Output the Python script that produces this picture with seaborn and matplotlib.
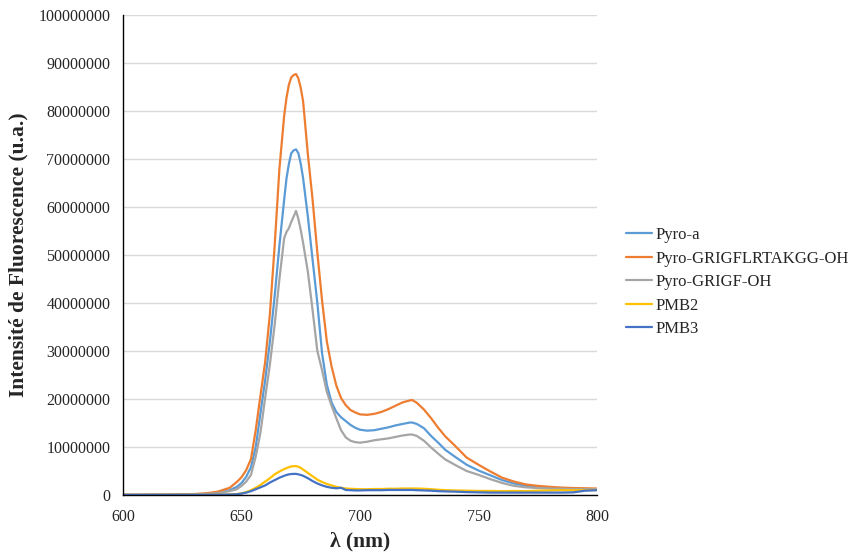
import numpy as np
import pandas as pd
import matplotlib
matplotlib.use('Agg')
import matplotlib.pyplot as plt
from matplotlib.ticker import FuncFormatter, MultipleLocator
import seaborn as sns

# wavelength (nm)
wl = [600, 610, 620, 630, 635, 640, 645, 648, 650, 652, 654, 656, 658, 660, 662, 664, 666,
      668, 669, 670, 671, 672, 673, 674, 675, 676, 677, 678, 680, 682, 684, 686, 688, 690,
      692, 694, 696, 698, 700, 703, 706, 709, 712, 715, 718, 721, 722, 724, 727, 730, 733,
      736, 740, 745, 750, 755, 760, 765, 770, 775, 780, 785, 790, 795, 800]

# intensities, in millions
pyro_a = [0.05, 0.06, 0.08, 0.15, 0.25, 0.5, 1.0, 1.7, 2.5, 3.8, 5.8, 10.0, 17.0, 24.0,
          32.0, 41.5, 52.0, 61.5, 66.0, 69.0, 71.2, 71.8, 72.0, 71.2, 69.0, 66.0, 62.0,
          58.0, 49.0, 40.0, 29.5, 23.0, 19.3, 17.3, 16.2, 15.4, 14.6, 14.0, 13.6, 13.4,
          13.5, 13.8, 14.1, 14.5, 14.8, 15.1, 15.1, 14.8, 13.9, 12.3, 10.9, 9.4, 8.0, 6.3,
          5.1, 4.1, 3.1, 2.4, 1.9, 1.6, 1.45, 1.35, 1.25, 1.2, 1.2]
pyro_long = [0.05, 0.07, 0.1, 0.2, 0.35, 0.7, 1.5, 2.7, 3.7, 5.2, 7.5, 13.5, 20.7, 27.8,
             37.8, 52.0, 68.0, 79.0, 82.8, 85.5, 87.0, 87.5, 87.7, 86.8, 84.8, 82.0, 76.5,
             71.0, 61.5, 50.5, 40.5, 32.0, 26.8, 22.8, 20.2, 18.7, 17.7, 17.2, 16.8, 16.7,
             16.9, 17.3, 17.9, 18.6, 19.3, 19.7, 19.8, 19.2, 17.8, 16.0, 14.0, 12.2, 10.3,
             7.8, 6.3, 4.9, 3.6, 2.8, 2.2, 1.9, 1.7, 1.55, 1.45, 1.4, 1.35]
pyro_short = [0.04, 0.05, 0.07, 0.12, 0.2, 0.4, 0.8, 1.2, 1.9, 2.8, 4.2, 8.0, 13.0, 20.3,
              27.3, 35.5, 45.0, 53.5, 54.8, 55.6, 56.9, 58.0, 59.2, 57.5, 55.2, 52.5, 49.5,
              46.5, 38.5, 30.0, 26.0, 21.5, 18.6, 16.0, 13.5, 12.0, 11.3, 11.0, 10.9, 11.1,
              11.4, 11.6, 11.8, 12.1, 12.4, 12.6, 12.6, 12.3, 11.3, 9.9, 8.6, 7.4, 6.3, 5.0,
              4.2, 3.3, 2.5, 1.9, 1.6, 1.45, 1.35, 1.3, 1.25, 1.2, 1.2]
pmb2 = [0.02, 0.02, 0.03, 0.04, 0.05, 0.08, 0.12, 0.2, 0.35, 0.6, 1.0, 1.5, 2.1, 2.8, 3.5,
        4.3, 4.9, 5.4, 5.6, 5.8, 5.95, 6.0, 6.0, 5.9, 5.65, 5.3, 4.95, 4.6, 3.9, 3.2, 2.7,
        2.3, 2.0, 1.7, 1.5, 1.35, 1.3, 1.25, 1.2, 1.2, 1.25, 1.25, 1.3, 1.3, 1.35, 1.35,
        1.35, 1.35, 1.3, 1.2, 1.1, 1.0, 0.95, 0.9, 0.85, 0.85, 0.8, 0.85, 0.8, 0.9, 0.95,
        1.0, 1.0, 1.0, 1.05]
pmb3 = [0.02, 0.02, 0.03, 0.04, 0.05, 0.07, 0.1, 0.15, 0.3, 0.5, 0.8, 1.2, 1.6, 2.0, 2.6,
        3.1, 3.6, 4.0, 4.17, 4.3, 4.37, 4.4, 4.4, 4.3, 4.17, 4.0, 3.75, 3.5, 2.9, 2.4, 2.0,
        1.7, 1.5, 1.4, 1.5, 1.05, 1.0, 0.95, 0.95, 1.0, 1.0, 1.0, 1.05, 1.05, 1.05, 1.05,
        1.05, 1.0, 0.95, 0.9, 0.8, 0.75, 0.7, 0.6, 0.55, 0.5, 0.5, 0.5, 0.5, 0.5, 0.5, 0.5,
        0.55, 0.9, 1.0]

labels = ['Pyro-a', 'Pyro-GRIGFLRTAKGG-OH', 'Pyro-GRIGF-OH', 'PMB2', 'PMB3']
colors = ['#5B9BD5', '#ED7D31', '#A5A5A5', '#FFC000', '#4472C4']
series = [pyro_a, pyro_long, pyro_short, pmb2, pmb3]

frames = []
for name, vals in zip(labels, series):
    frames.append(pd.DataFrame({'wl': wl, 'val': np.array(vals) * 1e6, 'series': name}))
df = pd.concat(frames, ignore_index=True)

sns.set_style('white')
plt.rcParams['font.family'] = ['Liberation Serif', 'DejaVu Serif']

fig = plt.figure(figsize=(8.53, 5.53), dpi=100)
ax = fig.add_axes([123 / 853, 1 - 495 / 553, 474 / 853, 480 / 553])

sns.lineplot(data=df, x='wl', y='val', hue='series', palette=dict(zip(labels, colors)),
             hue_order=labels, linewidth=1.6, ax=ax, legend=False)

ax.set_xlim(600, 800)
ax.set_ylim(0, 100000000)
ax.xaxis.set_major_locator(MultipleLocator(50))
ax.yaxis.set_major_locator(MultipleLocator(10000000))
ax.yaxis.set_major_formatter(FuncFormatter(lambda v, p: '%d' % v))
ax.grid(axis='y', color='#D9D9D9', linewidth=1)
ax.set_axisbelow(True)
for s in ['top', 'right']:
    ax.spines[s].set_visible(False)
for s in ['left', 'bottom']:
    ax.spines[s].set_color('black')
    ax.spines[s].set_linewidth(1)
ax.tick_params(axis='x', direction='inout', length=8, width=1, color='#333333',
               labelsize=11.5, pad=6)
ax.tick_params(axis='y', direction='out', length=4, width=1, color='#333333',
               labelsize=11.5, pad=5)

ax.set_xlabel('λ (nm)', fontsize=15.5, fontweight='bold', labelpad=5)
ax.set_ylabel('Intensité de Fluorescence (u.a.)', fontsize=15.5, fontweight='bold', labelpad=7)

handles = [plt.Line2D([], [], color=c, linewidth=1.6) for c in colors]
fig.legend(handles, labels, loc='upper left', bbox_to_anchor=(626 / 853, 1 - 227 / 553),
           frameon=False, fontsize=12, handlelength=1.55, handletextpad=0.2,
           labelspacing=0.45, borderpad=0, borderaxespad=0)

fig.savefig('out.png', dpi=100)
